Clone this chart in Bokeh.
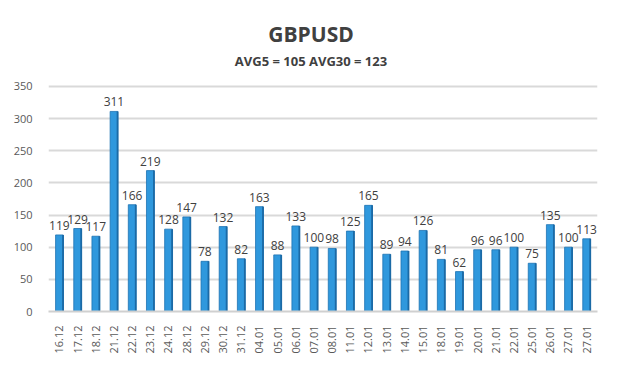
from bokeh.plotting import figure
from bokeh.models import Range1d, ColumnDataSource, Label, FixedTicker, LabelSet
from bokeh.core.properties import value
from bokeh.embed import file_html
from bokeh.resources import INLINE
import math

dates = ["16.12", "17.12", "18.12", "21.12", "22.12", "23.12", "24.12", "28.12", "29.12", "30.12",
         "31.12", "04.01", "05.01", "06.01", "07.01", "08.01", "11.01", "12.01", "13.01", "14.01",
         "15.01", "18.01", "19.01", "20.01", "21.01", "22.01", "25.01", "26.01", "27.01", "27.01"]
values = [119, 129, 117, 311, 166, 219, 128, 147, 78, 132,
          82, 163, 88, 133, 100, 98, 125, 165, 89, 94,
          126, 81, 62, 96, 96, 100, 75, 135, 100, 113]
y_ticks = [0, 50, 100, 150, 200, 250, 300, 350]
title_text = "GBPUSD"
subtitle_text = "AVG5 = 105 AVG30 = 123"

W, H = 604, 371
idx = list(range(len(dates)))
src = ColumnDataSource(dict(x=idx, side=[i + 0.2 for i in idx], top=values,
                            lbl=[str(v) for v in values]))

x0, x1 = -0.6, len(dates) - 0.4
# the frame extends above the top tick so that the titles sit inside it
p = figure(width=W, height=H, output_backend="svg", toolbar_location=None,
           x_range=Range1d(x0, x1), y_range=Range1d(0, 471),
           min_border_left=48, min_border_right=7, min_border_bottom=60, min_border_top=8)
p.outline_line_color = None
p.background_fill_color = "white"
p.border_fill_color = "white"

xc = (x0 + x1) / 2
top_tick = y_ticks[-1]
p.add_layout(Label(x=xc, y=top_tick, x_offset=-12, y_offset=52,
                   text=title_text, text_align="center", text_baseline="middle",
                   text_font="Open Sans", text_font_size="21px", text_font_style="bold",
                   text_color="#404040"))
p.add_layout(Label(x=xc, y=top_tick, x_offset=-12, y_offset=25,
                   text=subtitle_text, text_align="center", text_baseline="middle",
                   text_font="Open Sans", text_font_size="13px", text_font_style="bold",
                   text_color="#404040"))

# bars: main face + darker side strip
p.vbar(x="x", top="top", width=0.42, source=src, fill_color="#2f98dd",
       line_color="#1d72b3", line_width=0.8)
p.vbar(x="side", top="top", width=0.1, source=src, fill_color="#1b6aa6",
       line_color=None)

labels = LabelSet(x="x", y="top", text="lbl", source=src, text_align="center",
                  text_baseline="bottom", y_offset=5, text_font=value("Open Sans"),
                  text_font_size=value("12px"), text_color="#404040")
p.add_layout(labels)

p.yaxis.ticker = FixedTicker(ticks=y_ticks)
p.yaxis.axis_line_color = None
p.yaxis.major_tick_line_color = None
p.yaxis.minor_tick_line_color = None
p.yaxis.major_label_text_font = "Open Sans"
p.yaxis.major_label_text_font_size = "11px"
p.yaxis.major_label_text_color = "#595959"
p.yaxis.major_label_standoff = 10

p.xaxis.ticker = FixedTicker(ticks=idx)
p.xaxis.major_label_overrides = {i: d for i, d in enumerate(dates)}
p.xaxis.major_label_orientation = math.pi / 2
p.xaxis.axis_line_color = "#d0d0d0"
p.xaxis.axis_line_width = 2
p.xaxis.major_tick_line_color = None
p.xaxis.minor_tick_line_color = None
p.xaxis.major_label_text_font = "Open Sans"
p.xaxis.major_label_text_font_size = "11px"
p.xaxis.major_label_text_color = "#595959"
p.xaxis.major_label_standoff = 8

p.xgrid.grid_line_color = None
p.ygrid.grid_line_color = "#d9d9d9"
p.ygrid.grid_line_width = 2

open("out.html", "w").write(file_html(p, INLINE))
